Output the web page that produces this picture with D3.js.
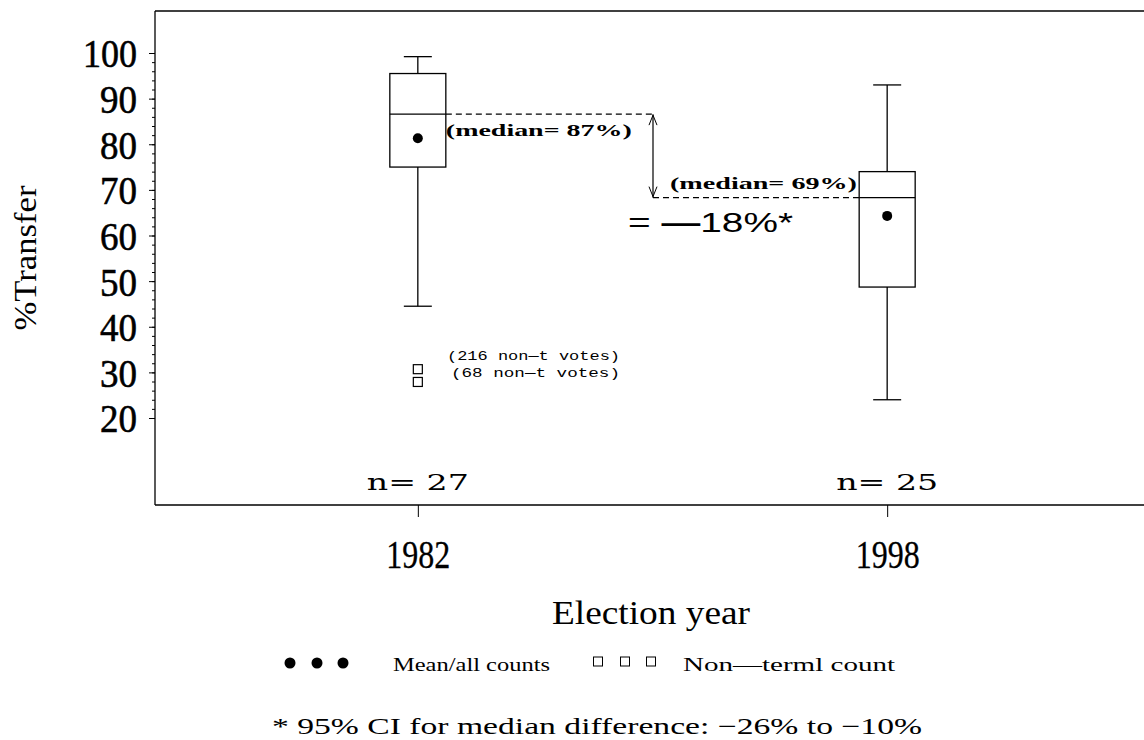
<!DOCTYPE html>
<html><head><meta charset="utf-8">
<script src="https://cdn.jsdelivr.net/npm/d3@7"></script>
<style>
body{margin:0;background:#fff;}
svg{display:block;}
text{fill:#000;}
</style></head>
<body><svg id="c" width="1144" height="740"></svg>
<script>
// ---- data ----
const years = ["1982", "1998"];
const nCounts = [27, 25];
const whiskerLow = [44.5, 24];
const q1 = [75, 48.7];
const medians = [86.6, 68.3];
const q3 = [95.5, 74];
const whiskerHigh = [99.2, 93];
const means = [81.3, 64.3];
const outliers1982 = [30.7, 27.9];
const outlierLabels = ["(216 non\u2014t votes)", "(68 non\u2014t votes)"];
const medianLabels = ["(median= 87%)", "(median= 69%)"];
const yTicks = [20, 30, 40, 50, 60, 70, 80, 90, 100];
const yMinorTicks = d3.range(20, 101, 2);

const svg = d3.select("#c");
const L = 155, T = 11, B = 505, R = 1150;
const x = d3.scalePoint().domain(years).range([L, R]).padding(0.56);
const y = d3.scaleLinear().domain([20, 100]).range([418, 53]);
const serif = "'Liberation Serif', serif";

// frame
svg.append("line").attr("x1", L).attr("x2", 1144).attr("y1", T).attr("y2", T).attr("stroke", "#000").attr("stroke-width", 1.3);
svg.append("line").attr("x1", L).attr("x2", L).attr("y1", T).attr("y2", B).attr("stroke", "#000").attr("stroke-width", 1.3);
svg.append("line").attr("x1", L).attr("x2", 1144).attr("y1", B).attr("y2", B).attr("stroke", "#000").attr("stroke-width", 1.3);

// y axis minor
const gMinor = svg.append("g").attr("transform", `translate(${L},0)`)
  .call(d3.axisLeft(y).tickValues(yMinorTicks).tickSize(3).tickFormat(""));
gMinor.select(".domain").remove();
const gy = svg.append("g").attr("transform", `translate(${L},0)`)
  .call(d3.axisLeft(y).tickValues(yTicks).tickSize(6).tickPadding(12));
gy.select(".domain").remove();
svg.selectAll(".tick line").attr("stroke", "#000");
gy.selectAll(".tick text").attr("font-family", serif).attr("font-size", 41)
  .attr("dy", "0.34em").attr("stroke", "#000").attr("stroke-width", 0.6)
  .attr("textLength", d => d === 100 ? 54 : 37).attr("lengthAdjust", "spacingAndGlyphs");

// x axis
const gx = svg.append("g").attr("transform", `translate(0,${B})`)
  .call(d3.axisBottom(x).tickSize(12).tickPadding(23));
gx.select(".domain").remove();
gx.selectAll(".tick line").attr("stroke", "#000");
gx.selectAll(".tick text").attr("font-family", serif).attr("font-size", 40)
  .attr("dy", "0.71em").attr("stroke", "#000").attr("stroke-width", 0.3)
  .attr("textLength", 64).attr("lengthAdjust", "spacingAndGlyphs");

// y label
svg.append("text").attr("transform", "translate(36,258) rotate(-90)")
  .attr("text-anchor", "middle").attr("font-family", serif).attr("font-size", 32)
  .attr("textLength", 145).attr("lengthAdjust", "spacingAndGlyphs").text("%Transfer");
// x label
svg.append("text").attr("x", 651).attr("y", 624).attr("text-anchor", "middle")
  .attr("font-family", serif).attr("font-size", 33)
  .attr("textLength", 198).attr("lengthAdjust", "spacingAndGlyphs").text("Election year");

// boxes
const bw = 56, cw = 28;
years.forEach((yr, i) => {
  const cx = x(yr);
  const g = svg.append("g").attr("stroke", "#000").attr("stroke-width", 1.3).attr("fill", "none");
  g.append("line").attr("x1", cx).attr("x2", cx).attr("y1", y(whiskerHigh[i])).attr("y2", y(q3[i]));
  g.append("line").attr("x1", cx).attr("x2", cx).attr("y1", y(q1[i])).attr("y2", y(whiskerLow[i]));
  g.append("line").attr("x1", cx - cw / 2).attr("x2", cx + cw / 2).attr("y1", y(whiskerHigh[i])).attr("y2", y(whiskerHigh[i]));
  g.append("line").attr("x1", cx - cw / 2).attr("x2", cx + cw / 2).attr("y1", y(whiskerLow[i])).attr("y2", y(whiskerLow[i]));
  g.append("rect").attr("x", cx - bw / 2).attr("width", bw).attr("y", y(q3[i])).attr("height", y(q1[i]) - y(q3[i]));
  g.append("line").attr("x1", cx - bw / 2).attr("x2", cx + bw / 2).attr("y1", y(medians[i])).attr("y2", y(medians[i]));
  svg.append("circle").attr("cx", cx).attr("cy", y(means[i])).attr("r", 5).attr("fill", "#000");
  svg.append("text").attr("x", cx).attr("y", 490).attr("text-anchor", "middle")
    .attr("font-family", "'DejaVu Serif', serif").attr("font-size", 22)
    .attr("textLength", 102).attr("lengthAdjust", "spacingAndGlyphs").text("n= " + nCounts[i]);
});

// outliers
outliers1982.forEach((v, i) => {
  svg.append("rect").attr("x", x("1982") - 4.5).attr("y", y(v) - 4.5).attr("width", 9).attr("height", 9)
    .attr("fill", "none").attr("stroke", "#000").attr("stroke-width", 1.2);
});
svg.append("text").attr("x", 447).attr("y", 360).attr("font-family", "'Liberation Mono', monospace")
  .attr("font-size", 13).attr("textLength", 173).attr("lengthAdjust", "spacingAndGlyphs").text(outlierLabels[0]);
svg.append("text").attr("x", 451).attr("y", 377).attr("font-family", "'Liberation Mono', monospace")
  .attr("font-size", 13).attr("textLength", 169).attr("lengthAdjust", "spacingAndGlyphs").text(outlierLabels[1]);

// median difference annotation
const ax = 653;
const ym1 = y(medians[0]), ym2 = y(medians[1]);
svg.append("line").attr("x1", x("1982") + bw / 2).attr("x2", ax).attr("y1", ym1).attr("y2", ym1)
  .attr("stroke", "#000").attr("stroke-width", 1.2).attr("stroke-dasharray", "6,4");
svg.append("line").attr("x1", ax).attr("x2", x("1998") - bw / 2).attr("y1", ym2).attr("y2", ym2)
  .attr("stroke", "#000").attr("stroke-width", 1.2).attr("stroke-dasharray", "6,4");
svg.append("line").attr("x1", ax).attr("x2", ax).attr("y1", ym1).attr("y2", ym2).attr("stroke", "#000").attr("stroke-width", 1.2);
svg.append("path").attr("d", `M${ax - 4},${ym1 + 11}L${ax},${ym1 + 1}L${ax + 4},${ym1 + 11}`).attr("fill", "none").attr("stroke", "#000");
svg.append("path").attr("d", `M${ax - 4},${ym2 - 11}L${ax},${ym2 - 1}L${ax + 4},${ym2 - 11}`).attr("fill", "none").attr("stroke", "#000");

svg.append("text").attr("x", x("1982") + bw / 2).attr("y", ym1 + 22).attr("font-family", serif)
  .attr("font-weight", "bold").attr("font-size", 17).attr("textLength", 186).attr("lengthAdjust", "spacingAndGlyphs")
  .text(medianLabels[0]);
svg.append("text").attr("x", 670).attr("y", ym2 - 9).attr("font-family", serif)
  .attr("font-weight", "bold").attr("font-size", 17).attr("textLength", 187).attr("lengthAdjust", "spacingAndGlyphs")
  .text(medianLabels[1]);
const diff = svg.append("text").attr("x", 628).attr("y", 232).attr("font-family", "'Liberation Sans', sans-serif")
  .attr("font-size", 27).attr("textLength", 165).attr("lengthAdjust", "spacingAndGlyphs");
diff.append("tspan").text("= ");
diff.append("tspan").attr("font-weight", "bold").text("\u2014");
diff.append("tspan").text("18%*");

// legend
const legY = 663;
[290, 317, 343].forEach(cx => svg.append("circle").attr("cx", cx).attr("cy", legY).attr("r", 5.5).attr("fill", "#000"));
svg.append("text").attr("x", 393).attr("y", legY + 8).attr("font-family", serif).attr("font-size", 19)
  .attr("textLength", 157).attr("lengthAdjust", "spacingAndGlyphs").text("Mean/all counts");
[598, 625, 651].forEach(cx => svg.append("rect").attr("x", cx - 4.5).attr("y", legY - 6).attr("width", 9).attr("height", 9)
  .attr("fill", "none").attr("stroke", "#000").attr("stroke-width", 1));
svg.append("text").attr("x", 683).attr("y", legY + 8).attr("font-family", serif).attr("font-size", 19)
  .attr("textLength", 212).attr("lengthAdjust", "spacingAndGlyphs").text("Non\u2014terml count");

// footnote
svg.append("text").attr("x", 272).attr("y", 734).attr("font-family", serif).attr("font-size", 23)
  .attr("textLength", 650).attr("lengthAdjust", "spacingAndGlyphs")
  .text("* 95% CI for median difference: \u221226% to \u221210%");
</script></body></html>
